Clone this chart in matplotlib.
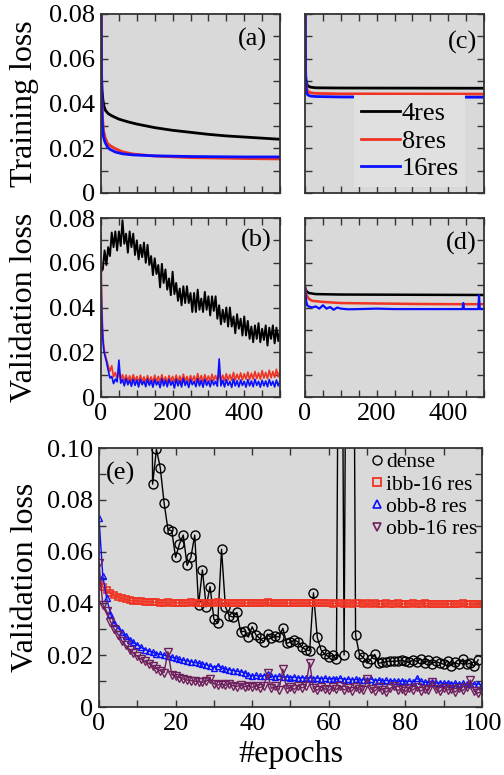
import numpy as np
import matplotlib
matplotlib.use("Agg")
import matplotlib.pyplot as plt
from matplotlib.ticker import MultipleLocator, FuncFormatter
from matplotlib.lines import Line2D

plt.rcParams['font.family'] = ['Liberation Serif', 'DejaVu Serif']

# ---- panel (a): training loss, full model
a_ep_black = [0, 1, 2, 3, 5, 8, 12, 20, 30, 50, 75, 100, 150, 200, 250, 300, 350, 400, 450, 500]
a_black = [0.085, 0.060, 0.050, 0.046, 0.042, 0.039, 0.037, 0.0355, 0.0345, 0.0330, 0.0318,
           0.0308, 0.0292, 0.0280, 0.0271, 0.0262, 0.0255, 0.0250, 0.0245, 0.0240]
a_ep_col = [0, 1, 2, 4, 7, 11, 18, 25, 40, 60, 90, 150, 250, 400, 500]
a_red = [0.085, 0.060, 0.045, 0.034, 0.028, 0.025, 0.0222, 0.0212, 0.0198, 0.0184, 0.0174,
         0.0165, 0.0158, 0.0154, 0.0152]
a_blue = [0.085, 0.055, 0.040, 0.030, 0.025, 0.0228, 0.0205, 0.0195, 0.0183, 0.0175, 0.0170,
          0.0166, 0.0163, 0.0161, 0.0161]

# ---- panel (c): training loss
c_ep = [0, 1, 2, 4, 8, 15, 30, 100, 500]
c_black = [0.09, 0.060, 0.052, 0.049, 0.0478, 0.0473, 0.0470, 0.0469, 0.0468]
c_red = [0.09, 0.058, 0.050, 0.047, 0.0455, 0.0448, 0.0445, 0.0443, 0.0442]
c_blue = [0.09, 0.055, 0.048, 0.045, 0.0438, 0.0433, 0.0431, 0.0429, 0.0428]

# ---- panel (b): validation loss, sampled every 5 epochs
b_ep_black = list(range(0, 501, 5))
b_black = [0.056, 0.057, 0.0655, 0.059, 0.067, 0.063, 0.0735, 0.067, 0.074, 0.0655,
           0.074, 0.0675, 0.079, 0.0685, 0.073, 0.0645, 0.074, 0.067, 0.073, 0.0635,
           0.070, 0.0615, 0.068, 0.0625, 0.069, 0.060, 0.068, 0.059, 0.063, 0.0545,
           0.062, 0.055, 0.059, 0.049, 0.0595, 0.051, 0.057, 0.048, 0.053, 0.0455,
           0.056, 0.046, 0.051, 0.043, 0.0485, 0.041, 0.0495, 0.042, 0.0495, 0.042,
           0.0465, 0.038, 0.0465, 0.038, 0.048, 0.039, 0.044, 0.038, 0.047, 0.039,
           0.045, 0.0365, 0.045, 0.0385, 0.045, 0.035, 0.041, 0.0325, 0.039, 0.0335,
           0.040, 0.0315, 0.040, 0.0315, 0.036, 0.0285, 0.037, 0.0305, 0.035, 0.0275,
           0.036, 0.0275, 0.034, 0.026, 0.0315, 0.0245, 0.032, 0.026, 0.033, 0.0245,
           0.0305, 0.0255, 0.032, 0.023, 0.031, 0.026, 0.032, 0.024, 0.031, 0.025, 0.030]
b_ep_col = [0, 1, 2, 3, 4, 5, 7, 10, 15, 20] + list(range(25, 501, 5))
b_red = [0.072, 0.055, 0.045, 0.038, 0.033, 0.029, 0.024, 0.020, 0.017, 0.014,
         0.0115, 0.0140, 0.0090, 0.0110, 0.0080, 0.0120, 0.0078, 0.0100, 0.0072, 0.0098,
         0.0070, 0.0095, 0.0068, 0.0100, 0.0072, 0.0092, 0.0066, 0.0098, 0.0070, 0.0090,
         0.0066, 0.0096, 0.0070, 0.0090, 0.0064, 0.0098, 0.0068, 0.0092, 0.0066, 0.0100,
         0.0068, 0.0090, 0.0064, 0.0096, 0.0070, 0.0092, 0.0066, 0.0098, 0.0068, 0.0094,
         0.0066, 0.0102, 0.0070, 0.0092, 0.0068, 0.0096, 0.0072, 0.0094, 0.0068, 0.0105,
         0.0070, 0.0096, 0.0068, 0.0100, 0.0072, 0.0094, 0.0070, 0.0102, 0.0074, 0.0096,
         0.0072, 0.0108, 0.0074, 0.0098, 0.0072, 0.0104, 0.0076, 0.0100, 0.0074, 0.0110,
         0.0076, 0.0102, 0.0078, 0.0108, 0.0076, 0.0104, 0.0080, 0.0112, 0.0078, 0.0106,
         0.0080, 0.0114, 0.0082, 0.0108, 0.0080, 0.0118, 0.0084, 0.0110, 0.0082, 0.0120,
         0.0086, 0.0114, 0.0088, 0.0124, 0.0090, 0.0118]
b_blue = [0.056, 0.045, 0.038, 0.033, 0.029, 0.026, 0.022, 0.019, 0.016, 0.012,
          0.0085, 0.0092, 0.0060, 0.0080, 0.0068, 0.0165, 0.0062, 0.0078, 0.0050, 0.0082,
          0.0055, 0.0075, 0.0048, 0.0080, 0.0052, 0.0076, 0.0045, 0.0079, 0.0055, 0.0072,
          0.0046, 0.0080, 0.0052, 0.0074, 0.0044, 0.0078, 0.0054, 0.0070, 0.0042, 0.0082,
          0.0050, 0.0075, 0.0046, 0.0079, 0.0053, 0.0071, 0.0040, 0.0080, 0.0050, 0.0074,
          0.0045, 0.0084, 0.0052, 0.0072, 0.0043, 0.0078, 0.0055, 0.0070, 0.0046, 0.0082,
          0.0050, 0.0074, 0.0044, 0.0079, 0.0052, 0.0072, 0.0046, 0.0076, 0.0054, 0.0070,
          0.0048, 0.0170, 0.0050, 0.0075, 0.0045, 0.0078, 0.0052, 0.0070, 0.0043, 0.0080,
          0.0050, 0.0073, 0.0045, 0.0076, 0.0052, 0.0070, 0.0044, 0.0078, 0.0050, 0.0072,
          0.0046, 0.0079, 0.0052, 0.0070, 0.0044, 0.0075, 0.0050, 0.0072, 0.0046, 0.0078,
          0.0052, 0.0070, 0.0045, 0.0076, 0.0050, 0.0072]

# ---- panel (d): validation loss
d_ep_black = [0, 3, 10, 30, 100, 500]
d_black = [0.049, 0.0475, 0.0465, 0.0460, 0.0458, 0.0456]
d_ep_red = [0, 3, 10, 20, 50, 100, 200, 300, 400, 500]
d_red = [0.049, 0.046, 0.044, 0.043, 0.0425, 0.042, 0.0418, 0.0416, 0.0415, 0.0415]
d_ep_blue = [0, 3, 6, 10, 20, 30, 40, 50, 60, 70, 80, 90, 100, 120, 150, 200, 250, 300,
             350, 400, 440, 442, 444, 484, 486, 488, 500]
d_blue = [0.049, 0.043, 0.041, 0.0405, 0.0400, 0.0405, 0.0395, 0.0410, 0.0395, 0.0402,
          0.0390, 0.0400, 0.0395, 0.0392, 0.0393, 0.0395, 0.0393, 0.0393, 0.0393, 0.0393,
          0.0393, 0.0420, 0.0393, 0.0393, 0.0455, 0.0393, 0.0393]

# ---- panel (e): validation loss vs epochs
nan = np.nan
e_ep_dense = list(range(0, 100))
e_dense = [nan] * 13 + [
    0.30, 0.086, 0.0995, 0.0924, 0.0788, 0.0686, 0.0680, 0.0578, 0.0629, 0.0664,
    0.0547, 0.0578, 0.0664, 0.0394, 0.0529, 0.0387, 0.0465, 0.0340, 0.0323, 0.0609,
    0.0387, 0.0353, 0.0347, 0.0365, 0.0290, 0.0293, 0.0270, 0.0310, 0.0278, 0.0265,
    0.0252, 0.0282, 0.0265, 0.0274, 0.0270, 0.0304, 0.0246, 0.0251, 0.0258, 0.0252,
    0.0230, 0.0222, 0.0217, 0.0441, 0.0269, 0.0220, 0.0203, 0.0194, 0.0199, 0.0185,
    0.30, 0.0201, 0.30, 0.30, 0.0278, 0.0203, 0.0192, 0.0169, 0.0185, 0.0203,
    0.0169, 0.0172, 0.0175, 0.0178, 0.0176, 0.0178, 0.0180, 0.0176, 0.0172, 0.0182,
    0.0175, 0.0185, 0.0170, 0.0180, 0.0168, 0.0176, 0.0170, 0.0165, 0.0178, 0.0160,
    0.0172, 0.0165, 0.0185, 0.0165, 0.0170, 0.0158, 0.0182]
e_ep = list(range(0, 101))
e_ibb16 = [0.0482, 0.0462, 0.0450, 0.0440, 0.0432, 0.0425, 0.0420, 0.0416, 0.0412, 0.0410,
           0.0409, 0.0408, 0.0407, 0.0406, 0.0405, 0.0404, 0.0403, 0.0402, 0.0404, 0.0402,
           0.0403, 0.0401, 0.0403, 0.0402, 0.0404, 0.0401, 0.0403, 0.0402, 0.0401, 0.0403,
           0.0402, 0.0404, 0.0401, 0.0402, 0.0403, 0.0401, 0.0402, 0.0400, 0.0402, 0.0401,
           0.0403, 0.0401, 0.0402, 0.0400, 0.0404, 0.0401, 0.0402, 0.0400, 0.0403, 0.0401,
           0.0402, 0.0400, 0.0401, 0.0403, 0.0400, 0.0402, 0.0401, 0.0400, 0.0402, 0.0400,
           0.0401, 0.0399, 0.0401, 0.0400, 0.0399, 0.0401, 0.0399, 0.0400, 0.0402, 0.0399,
           0.0400, 0.0399, 0.0401, 0.0399, 0.0398, 0.0400, 0.0399, 0.0398, 0.0400, 0.0398,
           0.0399, 0.0398, 0.0400, 0.0398, 0.0399, 0.0401, 0.0398, 0.0399, 0.0398, 0.0397,
           0.0399, 0.0398, 0.0397, 0.0399, 0.0398, 0.0400, 0.0397, 0.0398, 0.0397, 0.0396,
           0.0397]
e_obb8 = [0.0730, 0.0505, 0.0420, 0.0360, 0.0325, 0.0305, 0.0288, 0.0273, 0.0260, 0.0250,
          0.0240, 0.0230, 0.0222, 0.0216, 0.0211, 0.0206, 0.0203, 0.0200, 0.0196, 0.0192,
          0.0188, 0.0184, 0.0181, 0.0178, 0.0175, 0.0172, 0.0169, 0.0166, 0.0163, 0.0158,
          0.0152, 0.0160, 0.0150, 0.0147, 0.0144, 0.0141, 0.0138, 0.0136, 0.0133, 0.0125,
          0.0120, 0.0122, 0.0118, 0.0121, 0.0126, 0.0118, 0.0117, 0.0119, 0.0115, 0.0117,
          0.0114, 0.0116, 0.0112, 0.0114, 0.0111, 0.0113, 0.0110, 0.0112, 0.0109, 0.0111,
          0.0108, 0.0110, 0.0107, 0.0111, 0.0106, 0.0108, 0.0105, 0.0107, 0.0104, 0.0106,
          0.0103, 0.0108, 0.0102, 0.0104, 0.0101, 0.0103, 0.0100, 0.0102, 0.0099, 0.0101,
          0.0098, 0.0100, 0.0097, 0.0111, 0.0099, 0.0096, 0.0094, 0.0096, 0.0092, 0.0094,
          0.0091, 0.0093, 0.0090, 0.0092, 0.0089, 0.0091, 0.0088, 0.0090, 0.0087, 0.0089,
          0.0086]
e_obb16 = [0.0555, 0.0395, 0.0370, 0.0330, 0.0300, 0.0280, 0.0255, 0.0238, 0.0222, 0.0208,
           0.0196, 0.0185, 0.0176, 0.0168, 0.0158, 0.0148, 0.0140, 0.0133, 0.0214, 0.0125,
           0.0118, 0.0114, 0.0108, 0.0104, 0.0102, 0.0100, 0.0097, 0.0095, 0.0100, 0.0110,
           0.0090, 0.0085, 0.0088, 0.0084, 0.0090, 0.0082, 0.0079, 0.0085, 0.0078, 0.0083,
           0.0076, 0.0082, 0.0075, 0.0080, 0.0130, 0.0072, 0.0080, 0.0066, 0.0146, 0.0070,
           0.0078, 0.0068, 0.0082, 0.0074, 0.0080, 0.0171, 0.0072, 0.0065, 0.0078, 0.0070,
           0.0064, 0.0076, 0.0068, 0.0080, 0.0066, 0.0074, 0.0062, 0.0078, 0.0068, 0.0064,
           0.0107, 0.0070, 0.0062, 0.0076, 0.0066, 0.0058, 0.0072, 0.0080, 0.0064, 0.0070,
           0.0060, 0.0074, 0.0066, 0.0078, 0.0062, 0.0070, 0.0064, 0.0098, 0.0068, 0.0060,
           0.0074, 0.0066, 0.0070, 0.0058, 0.0072, 0.0064, 0.0076, 0.0104, 0.0060, 0.0054,
           0.0062]

BG = '#d9d9d9'
RED = '#f03322'
BLUE = '#0a10ff'
PURPLE = '#6e1f5c'
TICK_FS = 19
LABEL_FS = 23


def yfmt(v, pos):
    if abs(v) < 1e-9:
        return '0'
    return '%.2f' % v


def style(ax, xmaj, xmin, ymaj, ymin):
    ax.set_facecolor(BG)
    for s in ax.spines.values():
        s.set_linewidth(1.3)
        s.set_color('#333333')
    ax.xaxis.set_major_locator(MultipleLocator(xmaj))
    ax.xaxis.set_minor_locator(MultipleLocator(xmin))
    ax.yaxis.set_major_locator(MultipleLocator(ymaj))
    ax.yaxis.set_minor_locator(MultipleLocator(ymin))
    ax.yaxis.set_major_formatter(FuncFormatter(yfmt))
    ax.tick_params(which='both', direction='in', top=True, right=True,
                   length=5, width=1, color='#333333', labelsize=TICK_FS, pad=4)


fig = plt.figure(figsize=(5.04, 7.75), dpi=100)
ax_a = fig.add_axes([0.2004, 0.7510, 0.3552, 0.2310])
ax_c = fig.add_axes([0.6052, 0.7510, 0.3552, 0.2310])
ax_b = fig.add_axes([0.2004, 0.4877, 0.3552, 0.2310])
ax_d = fig.add_axes([0.6052, 0.4877, 0.3552, 0.2310])
ax_e = fig.add_axes([0.1964, 0.0877, 0.7599, 0.3342])

# (a)
ax_a.plot(a_ep_black, a_black, color='black', lw=2)
ax_a.plot(a_ep_col, a_red, color=RED, lw=2)
ax_a.plot(a_ep_col, a_blue, color=BLUE, lw=2)
# (c)
ax_c.plot(c_ep, c_black, color='black', lw=2, label='4res')
ax_c.plot(c_ep, c_red, color=RED, lw=2, label='8res')
ax_c.plot(c_ep, c_blue, color=BLUE, lw=2, label='16res')
# (b)
ax_b.plot(b_ep_black, b_black, color='black', lw=1.4)
ax_b.plot(b_ep_col, b_red, color=RED, lw=1.2)
ax_b.plot(b_ep_col, b_blue, color=BLUE, lw=1.2)
# (d)
ax_d.plot(d_ep_black, d_black, color='black', lw=1.8)
ax_d.plot(d_ep_red, d_red, color=RED, lw=1.8)
ax_d.plot(d_ep_blue, d_blue, color=BLUE, lw=1.6)

for ax in (ax_a, ax_b, ax_c, ax_d):
    style(ax, 200, 50, 0.02, 0.01)
    ax.set_xlim(0, 500)
    ax.set_ylim(0, 0.08)

for ax in (ax_a, ax_c):
    ax.tick_params(labelbottom=False)
for ax in (ax_c, ax_d):
    ax.tick_params(labelleft=False)

ax_a.set_ylabel('Training loss', fontsize=LABEL_FS)
ax_b.set_ylabel('Validation loss', fontsize=LABEL_FS)
ax_a.yaxis.set_label_coords(-0.345, 0.5)
ax_b.yaxis.set_label_coords(-0.345, 0.5)

ax_a.text(0.93, 0.855, '(a)', transform=ax_a.transAxes, ha='right', va='center', fontsize=19)
ax_c.text(0.96, 0.84, '(c)', transform=ax_c.transAxes, ha='right', va='center', fontsize=19)
ax_b.text(0.955, 0.875, '(b)', transform=ax_b.transAxes, ha='right', va='center', fontsize=19)
ax_d.text(0.96, 0.86, '(d)', transform=ax_d.transAxes, ha='right', va='center', fontsize=19)

leg = ax_c.legend(loc='lower right', bbox_to_anchor=(0.97, -0.04), fontsize=19,
                  handlelength=1.5, handletextpad=0.05, labelspacing=0.15,
                  borderpad=0.25, frameon=True, fancybox=False)
leg.get_frame().set_facecolor('#e0e0e0')
leg.get_frame().set_edgecolor('none')
leg.get_frame().set_alpha(1)

# (e)
ax_e.plot(e_ep_dense, e_dense, color='black', lw=1, marker='o', ms=6.5,
          mfc='none', mec='black', mew=1)
ax_e.plot(e_ep, e_ibb16, color=RED, lw=1, marker='s', ms=4.8,
          mfc='none', mec=RED, mew=1.2)
ax_e.plot(e_ep, e_obb8, color=BLUE, lw=1, marker='^', ms=4.8,
          mfc='none', mec=BLUE, mew=1)
ax_e.plot(e_ep, e_obb16, color=PURPLE, lw=1, marker='v', ms=5.5,
          mfc='none', mec=PURPLE, mew=1)
style(ax_e, 20, 10, 0.02, 0.01)
ax_e.set_xlim(0, 100)
ax_e.set_ylim(0, 0.10)
ax_e.set_ylabel('Validation loss', fontsize=LABEL_FS)
ax_e.yaxis.set_label_coords(-0.155, 0.5)
ax_e.set_xlabel('#epochs', fontsize=LABEL_FS)
ax_e.text(0.018, 0.90, '(e)', transform=ax_e.transAxes, ha='left', va='center', fontsize=19)

handles = [
    Line2D([], [], ls='none', marker='o', ms=6.5, mfc='none', mec='black', mew=1),
    Line2D([], [], ls='none', marker='s', ms=5.5, mfc='none', mec=RED, mew=1.3),
    Line2D([], [], ls='none', marker='^', ms=6, mfc='none', mec=BLUE, mew=1.2),
    Line2D([], [], ls='none', marker='v', ms=6, mfc='none', mec=PURPLE, mew=1.2),
]
ax_e.legend(handles, ['dense', 'ibb-16 res', 'obb-8 res', 'obb-16 res'],
            loc='upper right', bbox_to_anchor=(1.0, 1.0), borderaxespad=0.1,
            fontsize=15.5, handlelength=0.6, handletextpad=0.15, labelspacing=0.1,
            borderpad=0.1, frameon=False)

fig.savefig('out.png', dpi=100)
